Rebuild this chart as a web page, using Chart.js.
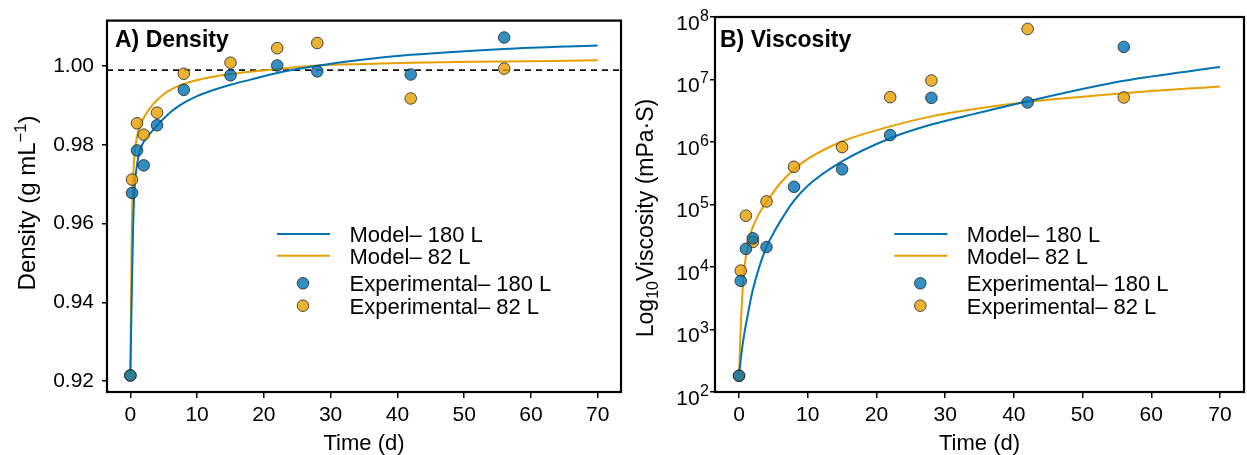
<!DOCTYPE html>
<html>
<head>
<meta charset="utf-8">
<script src="https://cdn.jsdelivr.net/npm/chart.js@4.4.1/dist/chart.umd.min.js"></script>
<style>
  html, body { margin: 0; padding: 0; background: #fff; }
  #wrap { position: relative; width: 1247px; height: 455px; }
  .panel { position: absolute; top: 0; height: 455px; }
  #left { left: 0; width: 623px; }
  #right { left: 623px; width: 624px; }
</style>
</head>
<body>
<div id="wrap">
  <div class="panel" id="left"><canvas id="densityChart"></canvas></div>
  <div class="panel" id="right"><canvas id="viscosityChart"></canvas></div>
</div>
<script>
// sampling days of the experiment
const sampleDays = [0, 0.25, 1, 2, 4, 8, 15, 22, 28, 42, 56];
const density180 = [0.9214, 0.9678, 0.9786, 0.9748, 0.9850, 0.9940, 0.9977, 1.0002, 0.9987, 0.9979, 1.0073];
const density82 = [0.9214, 0.9712, 0.9855, 0.9826, 0.9882, 0.9981, 1.0009, 1.0046, 1.0059, 0.9918, 0.9994];
// mPa·s
const viscosity180 = [182, 6000, 19500, 28800, 20900, 192000, 365000, 1290000, 5080000, 4290000, 33200000];
const viscosity82 = [182, 8750, 66200, 25200, 112000, 401000, 829000, 5210000, 9640000, 64300000, 5160000];

// model curves
const modelDaysDensity = [0, 0.2, 0.4, 0.6, 1, 1.5, 2, 3, 4, 5, 6, 7, 8, 10, 12, 15, 18, 22, 28, 35, 42, 56, 70];
const modelDensity180 = [0.9216, 0.941, 0.958, 0.968, 0.9750, 0.9789, 0.9808, 0.9830, 0.9849, 0.9867, 0.9883, 0.9896, 0.9907, 0.9924, 0.9937, 0.9953, 0.9966, 0.9983, 1.0001, 1.0017, 1.0029, 1.0044, 1.0053];
const modelDensity82 = [0.9216, 0.957, 0.971, 0.977, 0.9822, 0.9850, 0.9869, 0.9895, 0.9914, 0.9929, 0.9940, 0.9948, 0.9955, 0.9965, 0.9972, 0.9980, 0.9986, 0.9993, 1.0002, 1.0006, 1.0009, 1.0012, 1.0015];
const modelDaysViscosity = [0, 0.25, 0.5, 0.75, 1, 1.5, 2, 3, 4, 5, 6, 8, 10, 15, 22, 28, 35, 42, 56, 70];
const modelViscosity180 = [182, 331, 550, 832, 1200, 2340, 4270, 10500, 20900, 34700, 53700, 115000, 200000, 490000, 1150000, 1900000, 2950000, 4500000, 9550000, 15800000];
const modelViscosity82 = [182, 1120, 3980, 8910, 15100, 29500, 43700, 74100, 110000, 158000, 219000, 363000, 537000, 1020000, 1780000, 2570000, 3470000, 4370000, 6030000, 7760000];

const timeTicks = [0, 10, 20, 30, 40, 50, 60, 70];
const densityTicks = [0.92, 0.94, 0.96, 0.98, 1.00];
const viscosityTicks = [1e2, 1e3, 1e4, 1e5, 1e6, 1e7, 1e8];
const waterDensity = 0.999;

const blue = '#0072B2';
const orange = '#E69F00';
const blueFill = 'rgba(0,114,178,0.8)';
const orangeFill = 'rgba(230,159,0,0.8)';
const font = '"Liberation Sans", Arial, Helvetica, sans-serif';

function pts(xs, ys) {
  return xs.map((x, i) => ({ x: x, y: ys[i] }));
}

function fnt(size, bold) {
  return (bold ? 'bold ' : '') + size + 'px ' + font;
}

// draws text made of parts of different sizes (sub/superscripts), centred on x
function drawRich(ctx, parts, x, y, rotated) {
  ctx.save();
  ctx.translate(x, y);
  if (rotated) ctx.rotate(-Math.PI / 2);
  ctx.textBaseline = 'alphabetic';
  ctx.textAlign = 'left';
  ctx.fillStyle = '#000';
  const widths = parts.map(p => { ctx.font = fnt(p.size, p.bold); return ctx.measureText(p.t).width; });
  let cx = -widths.reduce((s, w) => s + w, 0) / 2;
  parts.forEach((p, i) => {
    ctx.font = fnt(p.size, p.bold);
    ctx.fillText(p.t, cx, p.dy || 0);
    cx += widths[i];
  });
  ctx.restore();
}

function makeDecor(cfg) {
  return {
    id: 'decor',
    beforeDatasetsDraw(chart) {
      if (cfg.refLine == null) return;
      const { ctx, chartArea: a } = chart;
      const py = chart.scales.y.getPixelForValue(cfg.refLine);
      ctx.save();
      ctx.setLineDash([6, 5]);
      ctx.lineWidth = 1.8;
      ctx.strokeStyle = '#111';
      ctx.beginPath();
      ctx.moveTo(a.left, py);
      ctx.lineTo(a.right, py);
      ctx.stroke();
      ctx.restore();
    },
    afterDraw(chart) {
      const { ctx, chartArea: a } = chart;
      ctx.save();
      ctx.lineWidth = 2.2;
      ctx.strokeStyle = '#000';
      ctx.strokeRect(a.left, a.top, a.right - a.left, a.bottom - a.top);

      // panel title
      ctx.fillStyle = '#000';
      ctx.font = fnt(23, true);
      ctx.textAlign = 'left';
      ctx.textBaseline = 'alphabetic';
      ctx.fillText(cfg.title, cfg.titleX, 47);

      // axis titles
      drawRich(ctx, [{ t: 'Time (d)', size: 22 }], (a.left + a.right) / 2, 450, false);
      drawRich(ctx, cfg.yTitle, cfg.yTitleX, cfg.yTitleY, true);

      // log tick labels 10^n
      if (cfg.logTicks) {
        const ys = chart.scales.y;
        cfg.logTicks.forEach(v => {
          const py = ys.getPixelForValue(v);
          const e = String(Math.round(Math.log10(v)));
          ctx.font = fnt(16);
          const ew = ctx.measureText(e).width;
          const right = a.left - 6;
          ctx.textAlign = 'right';
          ctx.fillText(e, right, py + 3.5);
          ctx.font = fnt(21);
          ctx.fillText('10', right - ew - 0.5, py + 12.5);
        });
      }

      // legend
      const L = cfg.legend;
      L.items.forEach((it, i) => {
        const ry = L.rows[i];
        if (it.type === 'line') {
          ctx.strokeStyle = it.color;
          ctx.lineWidth = 2;
          ctx.beginPath();
          ctx.moveTo(L.x, ry);
          ctx.lineTo(L.x + 53, ry);
          ctx.stroke();
        } else {
          ctx.beginPath();
          ctx.arc(L.x + 26, ry, 5.8, 0, Math.PI * 2);
          ctx.fillStyle = it.color;
          ctx.fill();
          ctx.lineWidth = 0.8;
          ctx.strokeStyle = '#222';
          ctx.stroke();
        }
        ctx.fillStyle = '#000';
        ctx.font = fnt(22);
        ctx.textAlign = 'left';
        ctx.fillText(it.label, L.x + 72.5, ry + 8);
      });
      ctx.restore();
    }
  };
}

const legendItems = [
  { type: 'line', color: blue, label: 'Model\u2013 180 L' },
  { type: 'line', color: orange, label: 'Model\u2013 82 L' },
  { type: 'point', color: blueFill, label: 'Experimental\u2013 180 L' },
  { type: 'point', color: orangeFill, label: 'Experimental\u2013 82 L' }
];

function lineSet(data, color) {
  return {
    type: 'line', data: data, showLine: true, borderColor: color, borderWidth: 2,
    pointRadius: 0, fill: false, cubicInterpolationMode: 'monotone', order: 2
  };
}

function pointSet(data, fill) {
  return {
    type: 'scatter', data: data, showLine: false, backgroundColor: fill, borderColor: '#222',
    borderWidth: 0.8, pointRadius: 5.8, order: 1
  };
}

function xScale() {
  return {
    type: 'linear', min: -3.5, max: 73.5,
    afterBuildTicks: s => { s.ticks = timeTicks.map(v => ({ value: v })); },
    afterFit: s => { s.height = 63; },
    grid: { drawOnChartArea: false, drawTicks: true, tickLength: 6, color: '#000', lineWidth: 1.5 },
    border: { display: false },
    ticks: { color: '#000', font: { family: font, size: 21 }, padding: 5, maxRotation: 0 }
  };
}

function baseOptions(yScale, padRight) {
  return {
    responsive: true, maintainAspectRatio: false, animation: false,
    layout: { autoPadding: false, padding: { left: 0, top: 17, right: padRight, bottom: 0 } },
    plugins: { legend: { display: false }, tooltip: { enabled: false } },
    scales: { x: xScale(), y: yScale }
  };
}

new Chart(document.getElementById('densityChart'), {
  type: 'scatter',
  data: {
    datasets: [
      lineSet(pts(modelDaysDensity, modelDensity180), blue),
      lineSet(pts(modelDaysDensity, modelDensity82), orange),
      pointSet(pts(sampleDays, density180), blueFill),
      pointSet(pts(sampleDays, density82), orangeFill)
    ]
  },
  options: baseOptions({
    type: 'linear', min: 0.9172, max: 1.0116,
    afterBuildTicks: s => { s.ticks = densityTicks.map(v => ({ value: v })); },
    afterFit: s => { s.width = 107; },
    grid: { drawOnChartArea: false, drawTicks: true, tickLength: 5, color: '#000', lineWidth: 1.5 },
    border: { display: false },
    ticks: { color: '#000', font: { family: font, size: 21 }, padding: 8, callback: v => v.toFixed(2) }
  }, 2),
  plugins: [makeDecor({
    title: 'A) Density', titleX: 115, refLine: waterDensity, yTitleX: 35, yTitleY: 203,
    yTitle: [{ t: 'Density (g mL', size: 24 }, { t: '\u22121', size: 16.5, dy: -9.5 }, { t: ')', size: 24 }],
    legend: { x: 277, rows: [234, 255.7, 283.3, 305.7], items: legendItems }
  })]
});

new Chart(document.getElementById('viscosityChart'), {
  type: 'scatter',
  data: {
    datasets: [
      lineSet(pts(modelDaysViscosity, modelViscosity180), blue),
      lineSet(pts(modelDaysViscosity, modelViscosity82), orange),
      pointSet(pts(sampleDays, viscosity180), blueFill),
      pointSet(pts(sampleDays, viscosity82), orangeFill)
    ]
  },
  options: baseOptions({
    type: 'logarithmic', min: 1e2, max: 1e8,
    afterBuildTicks: s => { s.ticks = viscosityTicks.map(v => ({ value: v })); },
    afterFit: s => { s.width = 92; },
    grid: { drawOnChartArea: false, drawTicks: true, tickLength: 5, color: '#000', lineWidth: 1.5 },
    border: { display: false },
    ticks: { display: false }
  }, 3),
  plugins: [makeDecor({
    title: 'B) Viscosity', titleX: 97, refLine: null, yTitleX: 30, yTitleY: 218,
    logTicks: viscosityTicks,
    yTitle: [{ t: 'Log', size: 23 }, { t: '10', size: 16, dy: 5 }, { t: 'Viscosity (mPa\u00b7S)', size: 23 }],
    legend: { x: 271.3, rows: [234, 255.7, 283.3, 305.7], items: legendItems }
  })]
});
</script>
</body>
</html>
